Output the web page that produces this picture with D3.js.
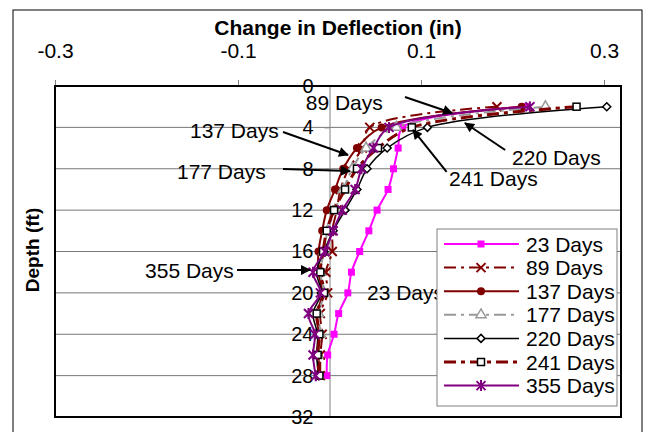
<!DOCTYPE html>
<html>
<head>
<meta charset="utf-8">
<script src="https://cdn.jsdelivr.net/npm/d3@7"></script>
<style>
  body { margin: 0; background: #fff; }
  text { font-family: "Liberation Sans", Arial, sans-serif; }
</style>
</head>
<body>
<div class="chart"></div>
<script>
// depths (ft) where readings were taken
var depths = [2, 4, 6, 8, 10, 12, 14, 16, 18, 20, 22, 24, 26, 28];

// change in deflection (in) per survey
var days23  = [0.215, 0.080, 0.075, 0.070, 0.064, 0.052, 0.043, 0.033, 0.024, 0.020, 0.010, 0.005, -0.002, -0.003];
var days89  = [0.183, 0.044, 0.036, 0.021, 0.012, 0.008, 0.003, 0.003, -0.004, -0.002, -0.010, -0.008, -0.010, -0.010];
var days137 = [0.210, 0.057, 0.030, 0.015, 0.006, -0.003, -0.008, -0.012, -0.012, -0.008, -0.013, -0.012, -0.012, -0.011];
var days177 = [0.236, 0.073, 0.040, 0.025, 0.015, 0.006, -0.002, -0.006, -0.010, -0.006, -0.012, -0.010, -0.013, -0.012];
var days220 = [0.303, 0.107, 0.063, 0.041, 0.030, 0.017, 0.004, -0.006, -0.014, -0.009, -0.018, -0.013, -0.014, -0.012];
var days241 = [0.270, 0.090, 0.053, 0.030, 0.017, 0.005, -0.003, -0.007, -0.010, -0.006, -0.014, -0.011, -0.013, -0.011];
var days355 = [0.219, 0.065, 0.048, 0.035, 0.028, 0.014, 0.004, -0.005, -0.018, -0.010, -0.023, -0.016, -0.018, -0.015];

var seriesNames = ["23 Days", "89 Days", "137 Days", "177 Days", "220 Days", "241 Days", "355 Days"];
var seriesValues = [days23, days89, days137, days177, days220, days241, days355];

var xTicks = [-0.3, -0.1, 0.1, 0.3];
var yTicks = [0, 4, 8, 12, 16, 20, 24, 28, 32];

// callout labels, placed in data units: [label, text x, text depth, arrow from x, from depth, to x, to depth]
var callouts = [
  ["89 Days", -0.026, 1.6, 0.0825, 1.06, 0.134, 2.61],
  ["220 Days", 0.1995, 6.86, 0.192, 6.19, 0.148, 3.58],
  ["241 Days", 0.1306, 8.89, 0.128, 8.31, 0.0913, 4.25],
  ["137 Days", -0.1525, 4.25, -0.0508, 4.45, 0.0202, 6.67],
  ["177 Days", -0.1667, 8.22, -0.0508, 8.02, 0.0224, 8.22],
  ["355 Days", -0.2016, 17.79, -0.1011, 17.79, -0.0213, 17.79],
  ["23 Days", 0.041, 20.0, null, null, null, null]
];

var width = 651, height = 432;

var svg = d3.select(".chart")
            .append("svg")
            .attr("width", width)
            .attr("height", height);

var x = d3.scaleLinear().domain([-0.3, 0.3]).range([55, 604]);
var y = d3.scaleLinear().domain([0, 32]).range([86, 417]);
var plotRight = 621;

var styles = [
  {color: "#ff00ff", dash: null, w: 2, marker: "square"},
  {color: "#800000", dash: "12,5,3,5", w: 2, marker: "x"},
  {color: "#800000", dash: null, w: 2, marker: "circle"},
  {color: "#999999", dash: "12,5,3,5", w: 2, marker: "triangle"},
  {color: "#000000", dash: null, w: 1.5, marker: "diamond"},
  {color: "#800000", dash: "12,5,4,5", w: 3, marker: "opensquare"},
  {color: "#800080", dash: null, w: 2, marker: "asterisk"}
];

// chart frame
svg.append("rect")
   .attr("x", 13).attr("y", 10)
   .attr("width", 629).attr("height", 440)
   .attr("fill", "none").attr("stroke", "#000").attr("stroke-width", 1);

// gridlines
svg.append("g").attr("class", "grid")
  .selectAll("line")
  .data(yTicks.slice(1, -1))
  .enter().append("line")
    .attr("x1", x(-0.3)).attr("x2", plotRight)
    .attr("y1", d => y(d)).attr("y2", d => y(d))
    .attr("stroke", "#777").attr("stroke-width", 1);

// top axis
var topAxis = svg.append("g")
   .attr("transform", "translate(0," + y(0) + ")")
   .call(d3.axisTop(x).tickValues(xTicks).tickSize(6).tickPadding(22).tickFormat(d => d.toFixed(1)));
topAxis.select(".domain").remove();
topAxis.selectAll(".tick line").attr("stroke", "#808080");
topAxis.selectAll(".tick text").attr("font-size", 21).attr("fill", "#000")
   .style("font-family", "Liberation Sans, Arial, sans-serif");

// vertical axis at zero
var leftAxis = svg.append("g")
   .attr("transform", "translate(" + x(0) + ",0)")
   .call(d3.axisLeft(y).tickValues(yTicks).tickSize(5).tickSizeOuter(0).tickPadding(11));
leftAxis.select(".domain").attr("stroke", "#808080");
leftAxis.selectAll(".tick line").attr("stroke", "#808080");
leftAxis.selectAll(".tick text").attr("font-size", 20).attr("fill", "#000")
   .style("font-family", "Liberation Sans, Arial, sans-serif");

// plot border
svg.append("rect")
   .attr("x", x(-0.3)).attr("y", y(0))
   .attr("width", plotRight - x(-0.3)).attr("height", y(32) - y(0))
   .attr("fill", "none").attr("stroke", "#000").attr("stroke-width", 2);

function drawMarker(g, type, color) {
  if (type === "square") {
    g.append("rect").attr("x", -3.5).attr("y", -3.5).attr("width", 7).attr("height", 7).attr("fill", color);
  } else if (type === "opensquare") {
    g.append("rect").attr("x", -3.5).attr("y", -3.5).attr("width", 7).attr("height", 7)
     .attr("fill", "#fff").attr("stroke", "#000").attr("stroke-width", 1.5);
  } else if (type === "circle") {
    g.append("circle").attr("r", 4).attr("fill", color);
  } else if (type === "x") {
    g.append("path").attr("d", "M-4.5,-4.5L4.5,4.5M-4.5,4.5L4.5,-4.5").attr("stroke", color).attr("stroke-width", 2);
  } else if (type === "asterisk") {
    g.append("path").attr("d", "M-4.5,-4.5L4.5,4.5M-4.5,4.5L4.5,-4.5M0,-5.5L0,5.5").attr("stroke", color).attr("stroke-width", 2);
  } else if (type === "triangle") {
    g.append("path").attr("d", d3.symbol(d3.symbolTriangle, 45)()).attr("fill", "#fff")
     .attr("stroke", color).attr("stroke-width", 1.5);
  } else if (type === "diamond") {
    g.append("path").attr("d", "M0,-4L4,0L0,4L-4,0Z").attr("fill", "#fff")
     .attr("stroke", color).attr("stroke-width", 1.5);
  }
}

var line = d3.line()
   .x(d => x(d[1]))
   .y(d => y(d[0]))
   .curve(d3.curveCatmullRom);

var series = svg.append("g").attr("class", "series");
seriesValues.forEach(function(vals, i) {
  var s = styles[i];
  var pts = depths.map((dp, j) => [dp, vals[j]]);
  var g = series.append("g");
  g.append("path")
    .attr("d", line(pts))
    .attr("fill", "none")
    .attr("stroke", s.color)
    .attr("stroke-width", s.w)
    .attr("stroke-dasharray", s.dash);
  g.selectAll(".pt")
    .data(pts)
    .enter().append("g")
      .attr("transform", d => "translate(" + x(d[1]) + "," + y(d[0]) + ")")
      .each(function() { drawMarker(d3.select(this), s.marker, s.color); });
});

// arrow head
svg.append("defs").append("marker")
   .attr("id", "arrow")
   .attr("viewBox", "0 0 10 10")
   .attr("refX", 9).attr("refY", 5)
   .attr("markerWidth", 6).attr("markerHeight", 5)
   .attr("markerUnits", "strokeWidth")
   .attr("orient", "auto")
  .append("path").attr("d", "M0,0L10,5L0,10Z").attr("fill", "#000");

var notes = svg.append("g").attr("class", "callouts");
callouts.forEach(function(c) {
  notes.append("text")
    .attr("x", x(c[1])).attr("y", y(c[2]))
    .attr("dy", "0.36em")
    .attr("font-size", 21)
    .text(c[0]);
  if (c[3] !== null) {
    notes.append("line")
      .attr("x1", x(c[3])).attr("y1", y(c[4]))
      .attr("x2", x(c[5])).attr("y2", y(c[6]))
      .attr("stroke", "#000").attr("stroke-width", 2)
      .attr("marker-end", "url(#arrow)");
  }
});

// legend
var legend = svg.append("g").attr("class", "legend");
legend.append("rect")
   .attr("x", 437).attr("y", 229).attr("width", 180).attr("height", 177)
   .attr("fill", "#fff").attr("stroke", "#808080").attr("stroke-width", 1);
seriesNames.forEach(function(name, i) {
  var s = styles[i];
  var ly = 244 + i * 23.6;
  legend.append("line")
    .attr("x1", 444).attr("x2", 519).attr("y1", ly).attr("y2", ly)
    .attr("stroke", s.color).attr("stroke-width", s.w)
    .attr("stroke-dasharray", s.dash);
  drawMarker(legend.append("g").attr("transform", "translate(481," + ly + ")"), s.marker, s.color);
  legend.append("text")
    .attr("x", 526).attr("y", ly).attr("dy", "0.36em")
    .attr("font-size", 21)
    .text(name);
});

// titles
svg.append("text")
   .attr("x", 338).attr("y", 35)
   .attr("text-anchor", "middle")
   .attr("font-size", 21).attr("font-weight", "bold")
   .text("Change in Deflection (in)");

svg.append("text")
   .attr("transform", "translate(39,250) rotate(-90)")
   .attr("text-anchor", "middle")
   .attr("font-size", 19).attr("font-weight", "bold")
   .text("Depth (ft)");
</script>
</body>
</html>
